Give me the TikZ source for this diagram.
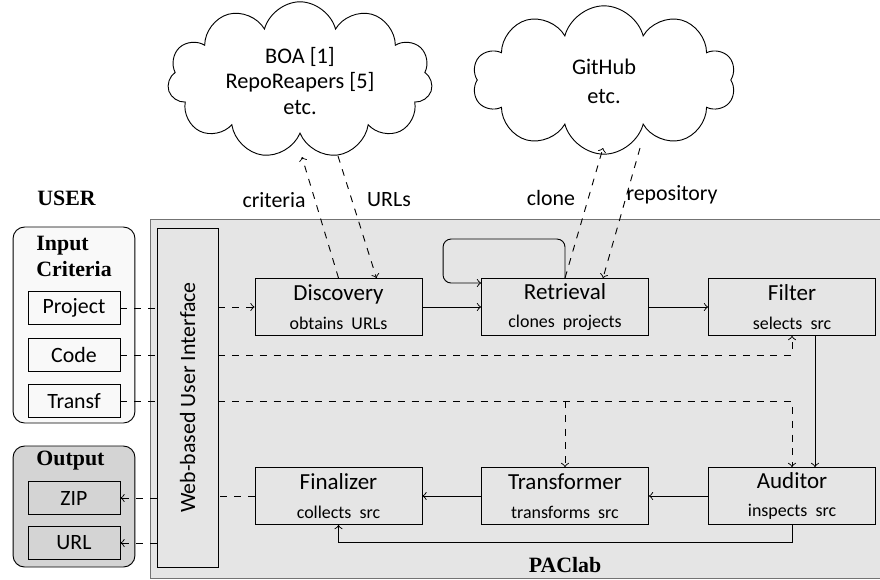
\documentclass[tikz,border=0pt]{standalone}
\usepackage{fontspec}
\setmainfont{Carlito}
\newfontfamily\headfont{Liberation Serif}
\usetikzlibrary{shapes.symbols,calc}

\definecolor{labfill}{gray}{0.9}
\definecolor{infill}{gray}{0.975}
\definecolor{outfill}{gray}{0.83}
\definecolor{labedge}{gray}{0.45}

\newcommand\subfont{\fontsize{7.8}{9}\selectfont}

\begin{document}
\begin{tikzpicture}[x=0.4348pt,y=-0.4348pt,
  font=\fontsize{9.5}{11.5}\selectfont,
  proc/.style={draw, minimum width=72.6pt, minimum height=24.8pt, align=center, inner sep=0pt,
               font=\fontsize{10}{12}\selectfont},
  item/.style={draw, minimum width=40pt, minimum height=14pt, inner sep=0pt},
  panel/.style={draw, rounded corners=5pt, minimum width=53pt, inner sep=0pt},
  head/.style={font=\headfont\bfseries\fontsize{9.5}{11}\selectfont, inner sep=0pt},
  flow/.style={->},
  link/.style={dashed},
  cloudbox/.style={cloud, draw, cloud ignores aspect, align=center, inner sep=0pt,
                   font=\fontsize{9.7}{11.2}\selectfont}
]
\useasboundingbox (0,0) rectangle (880,579);

% PAClab area
\node[draw=labedge, fill=labfill, anchor=north west, minimum width=322pt,
      minimum height=156.1pt, inner sep=0pt] (lab) at (150,219) {};
\node[head] (labname) at (565,565) {PAClab};

% user side panels
\node[head, anchor=west] (user) at (37,198) {USER};
\node[panel, fill=infill, minimum height=85.2pt] (inpanel) at (74,325) {};
\node[head, anchor=north west, align=left] (inhead) at (36,236) {Input\\Criteria};
\node[item, fill=infill] (proj) at (74,308) {Project};
\node[item, fill=infill] (code) at (74,355) {Code};
\node[item, fill=infill] (crit) at (74,401) {Transf};

\node[panel, fill=outfill, minimum height=52.6pt] (outpanel) at (74,506.5) {};
\node[head, anchor=west] (outhead) at (36,461) {Output};
\node[item, fill=outfill] (zip) at (74,498) {ZIP};
\node[item, fill=outfill] (url) at (74,543) {URL};

% web interface
\node[draw, minimum width=26.5pt, minimum height=147.4pt, inner sep=0pt] (ui) at (187.5,397.5) {};
\node[rotate=90] (uitext) at (ui.center) {Web-based User Interface};

% processing stages
\node[proc] (disc) at (338.5,307) {Discovery\\[0.5pt]{\subfont obtains\ \ URLs}};
\node[proc] (retr) at (565,307) {Retrieval\\[0.5pt]{\subfont clones\ \ projects}};
\node[proc] (filt) at (792,307) {Filter\\[0.5pt]{\subfont selects\ \ src}};
\node[proc] (audit) at (792,496) {Auditor\\[0.5pt]{\subfont inspects\ \ src}};
\node[proc] (tfm) at (565,496) {Transformer\\[0.5pt]{\subfont transforms\ \ src}};
\node[proc] (final) at (338.5,496) {Finalizer\\[0.5pt]{\subfont collects\ \ src}};

% external sources
\node[cloudbox, cloud puffs=11, minimum width=115.2pt, minimum height=68pt] (boa) at (300,80)
  {\strut BOA [1]\\RepoReapers [5]\\etc.};
\node[cloudbox, cloud puffs=10, minimum width=114.4pt, minimum height=64.5pt] (gh) at (604,80)
  {\strut GitHub\\[1.5pt]etc.};

\coordinate (boa-in) at (302,157);
\coordinate (boa-out) at (338,156);
\coordinate (gh-in) at (603,148);
\coordinate (gh-out) at (640,148);

\draw[link,->] (disc.north) -- (boa-in);
\draw[link,->] (boa-out) -- ($(disc.north)+(38,0)$);
\draw[link,->] (retr.north) -- (gh-in);
\draw[link,->] (gh-out) -- ($(retr.north)+(38,0)$);

\node (lcrit) at (274,200) {criteria};
\node (lurls) at (389,200) {URLs};
\node (lclone) at (551,198) {clone};
\node (lrepo) at (672,195) {repository};

% main flow
\draw[flow] (disc.east) -- (retr.west);
\draw[flow] (retr.east) -- (filt.west);
\draw[flow, rounded corners=3.5pt] (retr.north) -- ++(0,-39) -| ($(retr.west)+(-38,-24)$) -- ($(retr.west)+(0,-24)$);
\draw[flow] ($(filt.south)+(23,0)$) -- ($(audit.north)+(23,0)$);
\draw[flow] (audit.west) -- (tfm.east);
\draw[flow] (tfm.west) -- (final.east);
\draw[flow] (audit.south) -- ++(0,17) -| (final.south);

% criteria passed through the interface
\draw[link] (proj.east) -- (proj.east -| ui.west);
\draw[link,->] (disc.west -| ui.east) -- (disc.west);
\draw[link] (code.east) -- (code.east -| ui.west);
\draw[link,->] (code.east -| ui.east) -| (filt.south);
\draw[link] (crit.east) -- (crit.east -| ui.west);
\draw[link,->] (crit.east -| ui.east) -| (audit.north);
\draw[link,->] (crit.east -| tfm.north) -- (tfm.north);

% results back to the user
\draw[link] (final.west) -- (final.west -| ui.east);
\draw[link,->] (zip.east -| ui.west) -- (zip.east);
\draw[link,->] (url.east -| ui.west) -- (url.east);
\end{tikzpicture}
\end{document}
